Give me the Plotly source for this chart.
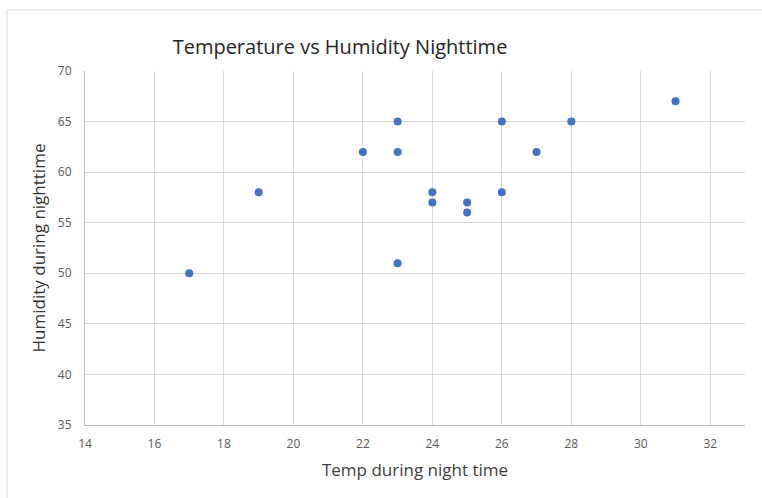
import plotly.graph_objects as go

temp = [17, 19, 22, 23, 23, 23, 24, 24, 25, 25, 26, 26, 27, 28, 31]
humidity = [50, 58, 62, 65, 62, 51, 58, 57, 57, 56, 65, 58, 62, 65, 67]
x_ticks = [14, 16, 18, 20, 22, 24, 26, 28, 30, 32]
y_ticks = [35, 40, 45, 50, 55, 60, 65, 70]

W, H = 762, 498
L, R, T, B = 85, 17, 71, 73
pw, ph = W - L - R, H - T - B

font = "Open Sans, Noto Sans, sans-serif"

fig = go.Figure(go.Scatter(
    x=temp, y=humidity, mode="markers",
    marker=dict(color="#4472C4", size=8),
    hoverinfo="x+y",
))

fig.update_layout(
    width=W, height=H,
    margin=dict(l=L, r=R, t=T, b=B),
    paper_bgcolor="white", plot_bgcolor="white",
    font=dict(family=font, color="#595959"),
    showlegend=False,
    title=dict(text="Temperature vs Humidity Nighttime",
               font=dict(size=20, color="#262626", family=font),
               xref="paper", x=(340 - L) / pw, xanchor="center",
               yref="container", y=1 - 47 / H, yanchor="middle"),
    xaxis=dict(range=[14, 33], tickvals=x_ticks, showgrid=True,
               gridcolor="#d9d9d9", gridwidth=1, zeroline=False,
               showline=True, linecolor="#bfbfbf", linewidth=1,
               ticks="", ticklabelstandoff=8,
               tickfont=dict(size=12, color="#595959"),
               title=dict(text="Temp during night time", standoff=12,
                          font=dict(size=17, color="#404040"))),
    yaxis=dict(range=[35, 70], tickvals=y_ticks, showgrid=True,
               gridcolor="#d9d9d9", gridwidth=1, zeroline=False,
               showline=True, linecolor="#bfbfbf", linewidth=1,
               ticks="", ticklabelstandoff=10,
               tickfont=dict(size=12, color="#595959"),
               title=dict(text="Humidity during nighttime", standoff=7,
                          font=dict(size=17, color="#333333"))),
    shapes=[dict(type="rect", xref="paper", yref="paper",
                 x0=(7 - L) / pw, x1=(W + 10 - L) / pw,
                 y0=(T + ph - (H + 10)) / ph, y1=(T + ph - 10) / ph,
                 line=dict(color="#d9d9d9", width=1), layer="below")],
)

fig.write_html("out.html",
               config={"displayModeBar": False},
               post_script="document.body.style.margin='0';document.body.style.overflow='hidden';")
